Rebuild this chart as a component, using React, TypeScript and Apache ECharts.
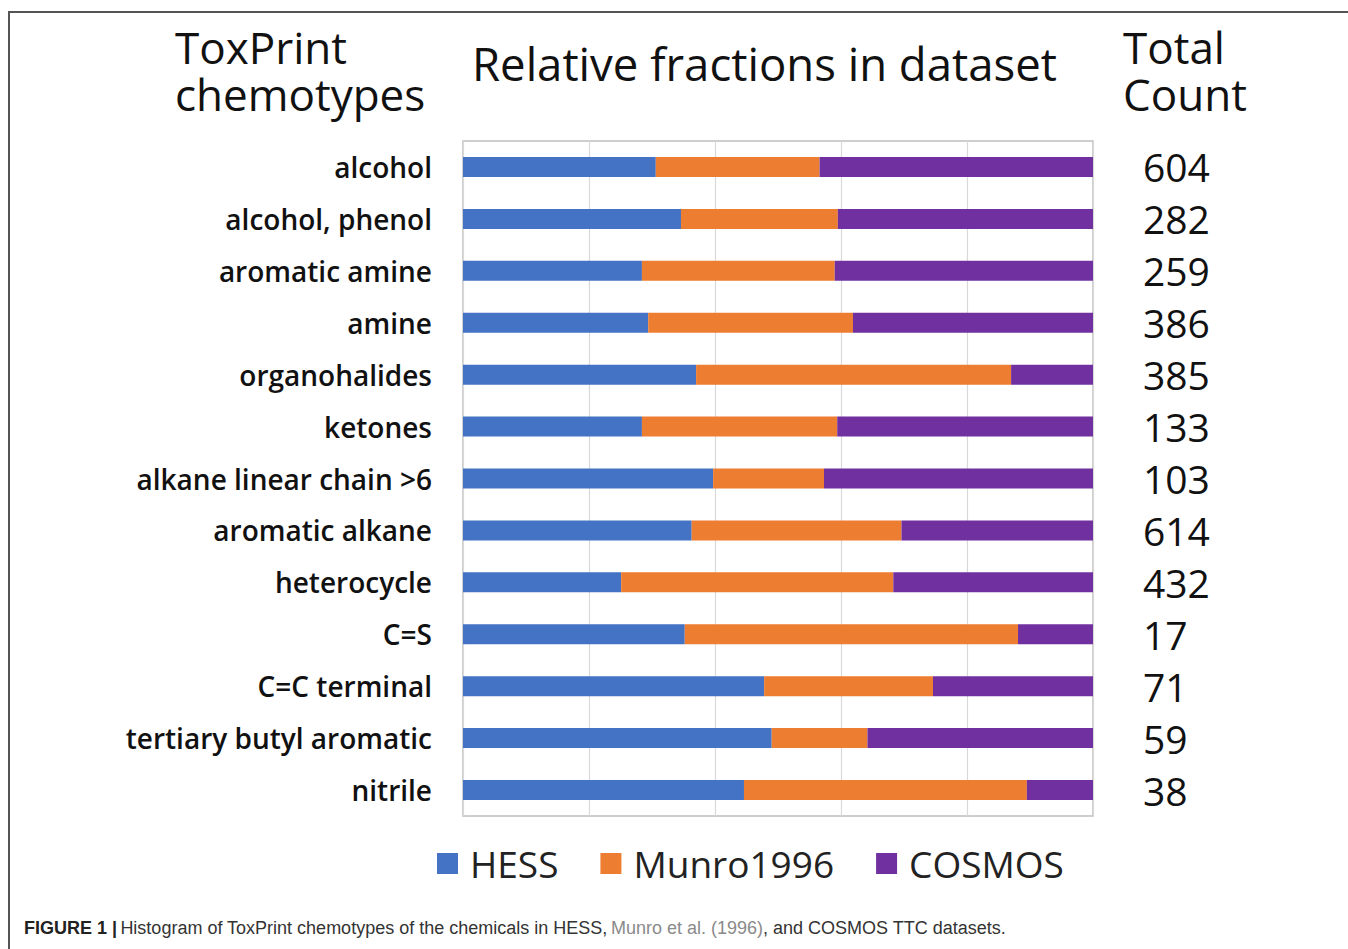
import React, { useEffect, useRef } from "react";
import * as echarts from "echarts";

const categories = [
  "alcohol",
  "alcohol, phenol",
  "aromatic amine",
  "amine",
  "organohalides",
  "ketones",
  "alkane linear chain >6",
  "aromatic alkane",
  "heterocycle",
  "C=S",
  "C=C terminal",
  "tertiary butyl aromatic",
  "nitrile",
];
const totalCounts = ["604", "282", "259", "386", "385", "133", "103", "614", "432", "17", "71", "59", "38"];
const hess = [0.306, 0.346, 0.284, 0.294, 0.37, 0.284, 0.397, 0.363, 0.251, 0.352, 0.478, 0.49, 0.446];
const munro = [0.26, 0.249, 0.306, 0.325, 0.5, 0.31, 0.176, 0.333, 0.432, 0.529, 0.268, 0.152, 0.449];
const cosmos = [0.434, 0.405, 0.41, 0.381, 0.13, 0.406, 0.427, 0.304, 0.317, 0.119, 0.254, 0.358, 0.105];
const seriesNames = ["HESS", "Munro1996", "COSMOS"];
const colors = ["#4472C4", "#ED7D31", "#7030A0"];

const FONT = "'Open Sans', 'Noto Sans', sans-serif";
const CAP = "'Liberation Sans', Arial, sans-serif";

export default function App() {
  const ref = useRef<HTMLDivElement>(null);
  useEffect(() => {
    if (!ref.current) return;
    const chart = echarts.init(ref.current, null, { renderer: "svg" });
    const values = [hess, munro, cosmos];
    const title = (text: string, left: number, top: number, size = 44) => ({
      type: "text",
      left,
      top,
      style: { text, font: `${size}px ${FONT}`, fill: "#111111" },
    });
    chart.setOption({
      animation: false,
      backgroundColor: "#ffffff",
      grid: {
        left: 463,
        right: 255,
        top: 141,
        bottom: 133,
        show: true,
        borderColor: "#bfbfbf",
        borderWidth: 1.5,
      },
      xAxis: {
        type: "value",
        min: 0,
        max: 1,
        interval: 0.2,
        axisLabel: { show: false },
        axisLine: { show: false },
        axisTick: { show: false },
        splitLine: { show: true, lineStyle: { color: "#d9d9d9", width: 1.2 } },
      },
      yAxis: [
        {
          type: "category",
          data: categories,
          inverse: true,
          axisLine: { show: false },
          axisTick: { show: false },
          axisLabel: {
            margin: 31,
            fontFamily: FONT,
            fontSize: 28,
            fontWeight: 600,
            color: "#111111",
          },
        },
        {
          type: "category",
          data: totalCounts,
          inverse: true,
          position: "right",
          axisLine: { show: false },
          axisTick: { show: false },
          axisLabel: {
            margin: 50,
            align: "left",
            fontFamily: FONT,
            fontSize: 39,
            color: "#111111",
          },
        },
      ],
      legend: {
        data: seriesNames,
        left: 437,
        top: 845,
        padding: 0,
        icon: "rect",
        itemWidth: 21,
        itemHeight: 21,
        itemGap: 42,
        textStyle: { fontFamily: FONT, fontSize: 37, color: "#222222", padding: [0, 0, 0, 7] },
      },
      series: seriesNames.map((name, i) => ({
        name,
        type: "bar",
        stack: "total",
        yAxisIndex: 0,
        barWidth: 20,
        itemStyle: { color: colors[i] },
        data: values[i],
      })),
      graphic: [
        {
          type: "rect",
          shape: { x: 9, y: 12, width: 1400, height: 1000 },
          style: { fill: "none", stroke: "#555555", lineWidth: 2 },
          silent: true,
        },
        title("ToxPrint", 175, 25),
        title("chemotypes", 175, 72),
        title("Relative fractions in dataset", 472, 40, 45.5),
        title("Total", 1123, 25),
        title("Count", 1123, 72),
        {
          type: "text",
          left: 24,
          top: 919,
          style: {
            text: "{b|FIGURE 1 |} {n|Histogram of ToxPrint chemotypes of the chemicals in HESS,} {g|Munro et al. (1996)}{n|, and COSMOS TTC datasets.}",
            rich: {
              b: { fontFamily: CAP, fontSize: 18, fontWeight: "bold", fill: "#222222" },
              n: { fontFamily: CAP, fontSize: 18, fill: "#333333" },
              g: { fontFamily: CAP, fontSize: 18, fill: "#8a8a8a" },
            },
          },
        },
      ],
    });
    return () => chart.dispose();
  }, []);
  return (
    <div
      ref={ref}
      style={{ position: "fixed", left: 0, top: 0, width: 1348, height: 949, background: "#fff" }}
    />
  );
}
